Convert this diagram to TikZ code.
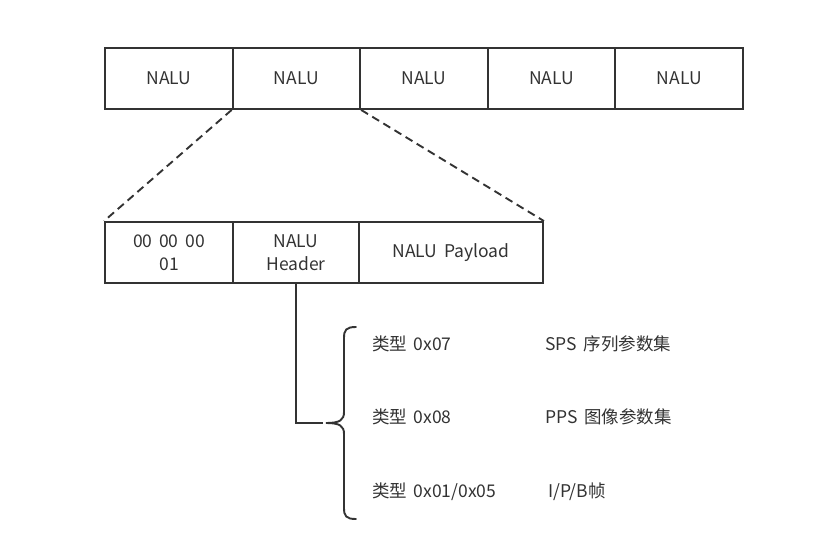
\documentclass[tikz,border=0pt]{standalone}
\usepackage{fontspec}
\setmainfont[WordSpace=1.7]{Noto Sans CJK SC}
\definecolor{lc}{HTML}{333333}
\definecolor{tc}{HTML}{333333}
\tikzset{
  cell/.style={draw=lc, line width=1.9pt, minimum height=61pt, inner sep=0pt, align=center, font=\fontsize{17.5}{23}\selectfont, text=tc},
  conn/.style={draw=lc, line width=1.9pt},
  dashconn/.style={draw=lc, line width=1.9pt, dash pattern=on 8pt off 5pt},
  lbl/.style={anchor=west, inner sep=0pt, font=\fontsize{17.5}{21}\selectfont, text=tc}
}
\begin{document}
\begin{tikzpicture}[x=1pt,y=-1pt]
\useasboundingbox (0,0) rectangle (831,549);
% top row
\node[cell, minimum width=127.6pt] (t1) at (168.8,78.5) {NALU};
\node[cell, minimum width=127.6pt] (t2) at (296.4,78.5) {NALU};
\node[cell, minimum width=127.6pt] (t3) at (424,78.5) {NALU};
\node[cell, minimum width=127.6pt] (t4) at (551.6,78.5) {NALU};
\node[cell, minimum width=127.6pt] (t5) at (679.2,78.5) {NALU};
% second row
\node[cell, minimum width=128pt] (b1) at (169,252.5) {00 00 00\\01};
\node[cell, minimum width=126pt] (b2) at (296,252.5) {NALU\\Header};
\node[cell, minimum width=184pt] (b3) at (451,252.5) {NALU Payload};
% dashed zoom lines
\draw[dashconn] (t2.south west) -- (b1.north west);
\draw[dashconn] (t2.south east) -- (b3.north east);
% header connector
\coordinate (hk) at (296,423);
\coordinate (he) at (323,423);
\draw[conn] (b2.south) -- (hk) -- (he);
% brace
\coordinate (tip) at (326,423);
\draw[conn, line cap=round] (356,327) .. controls (346,327) and (344,330) .. (344,338) -- (344,412) .. controls (344,420) and (340,423) .. (tip)
  .. controls (340,423) and (344,426) .. (344,434) -- (344,508) .. controls (344,516) and (346,519) .. (356,519);
% labels
\node[lbl] (l1) at (372,344) {类型 0x07};
\node[lbl] (r1) at (545,344) {SPS 序列参数集};
\node[lbl] (l2) at (372,417) {类型 0x08};
\node[lbl] (r2) at (545,417) {PPS 图像参数集};
\node[lbl] (l3) at (372,492) {类型 0x01/0x05};
\node[lbl] (r3) at (548,492) {I/P/B帧};
\end{tikzpicture}
\end{document}
